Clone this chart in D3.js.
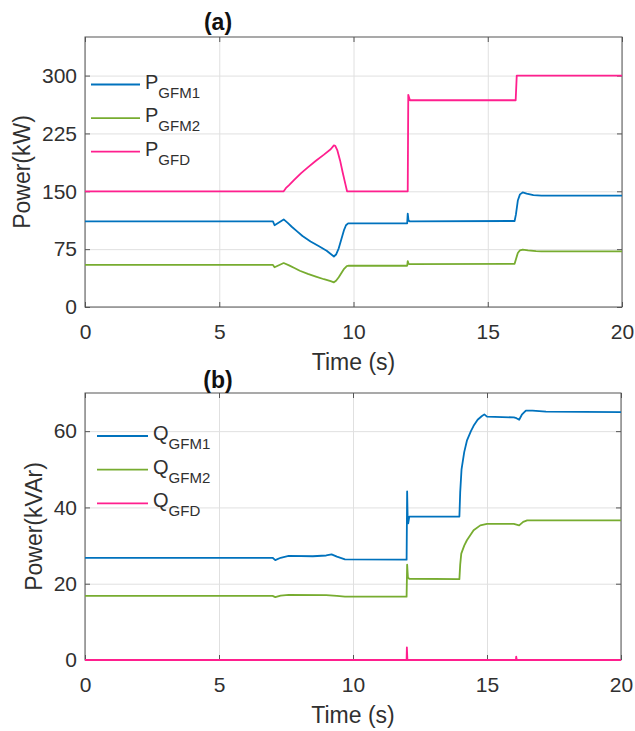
<!DOCTYPE html>
<html>
<head>
<meta charset="utf-8">
<script src="https://cdn.jsdelivr.net/npm/d3@7"></script>
<style>
  body { margin: 0; background: #fff; }
  svg { display: block; font-family: "Liberation Sans", Arial, Helvetica, sans-serif; }
</style>
</head>
<body>
<svg id="chart" width="635" height="731"></svg>
<script>
// Axis ticks
const timeTicks = [0, 5, 10, 15, 20];
const pTicks = [0, 75, 150, 225, 300];
const qTicks = [0, 20, 40, 60];

// Active power traces: [time (s), kW]
const pGFM1 = [[0,111],[7.0,111],[7.06,106],[7.4,113.5],[7.55,109],[7.7,104],[7.9,98],[8.1,92],[8.4,85],[8.7,79],[9.0,73],[9.2,67.5],[9.27,65.5],[9.35,68],[9.45,76],[9.55,88],[9.65,100],[9.72,106],[9.8,108.5],[12.0,108.5],[12.02,121],[12.05,112],[12.1,111],[16.0,111.5],[16.05,120],[16.12,138],[16.2,146],[16.3,148.5],[16.45,147],[16.7,145],[17.0,144.5],[20,144.5]];
const pGFM2 = [[0,54.5],[7.0,54.5],[7.06,51.5],[7.4,57],[7.6,54],[7.8,50.5],[8.0,47],[8.3,43],[8.6,39.5],[8.9,36],[9.15,33.5],[9.27,32],[9.35,34],[9.45,38.5],[9.55,44],[9.65,49.5],[9.75,53],[9.82,53.5],[12.0,53.5],[12.02,59.5],[12.05,56],[12.1,55.5],[16.0,56],[16.05,62],[16.12,70],[16.2,73.5],[16.3,74.5],[16.5,73.5],[16.8,72.5],[17.0,72],[20,72]];
const pGFD = [[0,150],[7.4,150],[7.48,154],[7.6,158],[7.8,165],[8.05,173.5],[8.3,181],[8.6,189.5],[8.9,197.5],[9.15,204.5],[9.27,209.5],[9.32,209],[9.4,203],[9.5,190],[9.6,174],[9.7,159],[9.76,150],[12.0,150],[12.02,150],[12.04,275],[12.1,268],[16.0,268],[16.04,268],[16.08,300],[20,300]];

// Reactive power traces: [time (s), kVAr]
const qGFM1 = [[0,26.8],[7.0,26.8],[7.1,26.2],[7.3,26.8],[7.6,27.3],[8.5,27.2],[9.0,27.4],[9.2,27.7],[9.4,27.1],[9.7,26.4],[12.0,26.3],[12.02,44.2],[12.04,37],[12.06,35.8],[12.1,37.6],[12.3,37.6],[13.97,37.6],[14.0,44],[14.05,50],[14.15,54.5],[14.25,57.5],[14.4,60],[14.5,61.4],[14.65,63],[14.8,63.9],[14.9,64.4],[15.0,63.8],[16.0,63.6],[16.1,63.4],[16.2,63],[16.3,64.3],[16.45,65.4],[16.7,65.4],[17.2,65.1],[20,65]];
const qGFM2 = [[0,16.8],[7.0,16.8],[7.1,16.5],[7.3,16.9],[7.6,17.1],[9.0,17.0],[9.4,16.8],[9.7,16.6],[12.0,16.6],[12.02,25],[12.05,21.6],[12.1,21.3],[13.97,21.2],[14.0,25],[14.04,27.9],[14.15,30],[14.25,31.4],[14.5,34],[14.75,35.3],[15.0,35.7],[16.0,35.7],[16.2,35.3],[16.35,36.2],[16.5,36.6],[20,36.6]];
const qGFD = [[0,0],[12.0,0],[12.01,3.3],[12.03,0],[16.08,0],[16.09,0.9],[16.11,0],[20,0]];

const seriesColors = ["#0072BD", "#77AC30", "#FF1F8E"];

const panels = [
  {
    title: "(a)", ylabel: "Power(kW)", yDomain: [0, 350], yTicks: pTicks,
    box: { left: 85, right: 622, top: 37, bottom: 307 },
    titleY: 30, ylabelX: 22,
    legend: { x0: 91, x1: 140, y0: 84.5, dy: 33.6, letter: "P" },
    series: [
      { data: pGFM1, sub: "GFM1" },
      { data: pGFM2, sub: "GFM2" },
      { data: pGFD,  sub: "GFD" }
    ]
  },
  {
    title: "(b)", ylabel: "Power(kVAr)", yDomain: [0, 70], yTicks: qTicks,
    box: { left: 85, right: 621, top: 393, bottom: 660 },
    titleY: 388, ylabelX: 34,
    legend: { x0: 97, x1: 148, y0: 436, dy: 33.7, letter: "Q" },
    series: [
      { data: qGFM1, sub: "GFM1" },
      { data: qGFM2, sub: "GFM2" },
      { data: qGFD,  sub: "GFD" }
    ]
  }
];

const svg = d3.select("#chart");
const textColor = "#303030";
const axisColor = "#555";
const gridColor = "#e0e0e0";

panels.forEach(p => {
  const b = p.box;
  const w = b.right - b.left, h = b.bottom - b.top;
  const x = d3.scaleLinear().domain([0, 20]).range([0, w]);
  const y = d3.scaleLinear().domain(p.yDomain).range([h, 0]);

  const g = svg.append("g").attr("transform", `translate(${b.left},${b.top})`);

  // grid
  g.append("g").attr("transform", `translate(0,${h})`)
    .call(d3.axisBottom(x).tickValues(timeTicks).tickSize(-h).tickFormat(""))
    .call(s => s.select(".domain").remove())
    .call(s => s.selectAll("line").attr("stroke", gridColor).attr("stroke-width", 1));
  g.append("g")
    .call(d3.axisLeft(y).tickValues(p.yTicks).tickSize(-w).tickFormat(""))
    .call(s => s.select(".domain").remove())
    .call(s => s.selectAll("line").attr("stroke", gridColor).attr("stroke-width", 1));

  // axes with inward ticks
  const styleAxis = s => {
    s.select(".domain").remove();
    s.selectAll(".tick line").attr("stroke", axisColor);
    s.selectAll(".tick text").attr("fill", textColor).style("font-size", "21px")
      .style("font-family", '"Liberation Sans", Arial, sans-serif');
  };
  g.append("g").attr("transform", `translate(0,${h})`)
    .call(d3.axisBottom(x).tickValues(timeTicks).tickSize(-5).tickPadding(17).tickFormat(d3.format("d")))
    .call(styleAxis);
  g.append("g")
    .call(d3.axisLeft(y).tickValues(p.yTicks).tickSize(-5).tickPadding(8).tickFormat(d3.format("d")))
    .call(styleAxis);
  g.append("g")
    .call(d3.axisTop(x).tickValues(timeTicks).tickSize(-5).tickFormat(""))
    .call(styleAxis);
  g.append("g").attr("transform", `translate(${w},0)`)
    .call(d3.axisRight(y).tickValues(p.yTicks).tickSize(-5).tickFormat(""))
    .call(styleAxis);

  // box
  g.append("rect").attr("width", w).attr("height", h)
    .attr("fill", "none").attr("stroke", axisColor).attr("stroke-width", 1);

  // traces (drawn over the box so a zero-valued trace stays visible)
  const line = d3.line().x(d => x(d[0])).y(d => y(d[1]));
  const clipId = "clip" + p.title.replace(/\W/g, "");
  g.append("clipPath").attr("id", clipId)
    .append("rect").attr("x", 0).attr("y", -2).attr("width", w).attr("height", h + 4);
  g.append("g").attr("clip-path", `url(#${clipId})`)
    .selectAll("path").data(p.series).join("path")
    .attr("d", s => line(s.data))
    .attr("fill", "none")
    .attr("stroke", (s, i) => seriesColors[i])
    .attr("stroke-width", 1.8)
    .attr("stroke-linejoin", "round");

  // axis labels
  svg.append("text")
    .attr("x", b.left + w / 2).attr("y", b.bottom + 55).attr("dy", "0.35em")
    .attr("text-anchor", "middle").attr("fill", textColor)
    .style("font-size", "23px").text("Time (s)");
  svg.append("text")
    .attr("transform", `translate(${p.ylabelX},${b.top + h / 2}) rotate(-90)`)
    .attr("dy", "0.35em").attr("text-anchor", "middle").attr("fill", textColor)
    .style("font-size", "23px").text(p.ylabel);

  // title
  svg.append("text")
    .attr("x", 218).attr("y", p.titleY)
    .attr("text-anchor", "middle").attr("fill", "#111")
    .style("font-size", "23px").style("font-weight", "bold").text(p.title);

  // legend
  const L = p.legend;
  const lg = svg.append("g");
  p.series.forEach((s, i) => {
    const yy = L.y0 + i * L.dy;
    lg.append("line").attr("x1", L.x0).attr("x2", L.x1).attr("y1", yy).attr("y2", yy)
      .attr("stroke", seriesColors[i]).attr("stroke-width", 1.8);
    const t = lg.append("text").attr("x", L.x1 + 5).attr("y", yy + 4).attr("fill", textColor)
      .style("font-size", "20px");
    t.append("tspan").text(L.letter);
    t.append("tspan").attr("dy", 9).style("font-size", "15px").text(s.sub);
  });
});
</script>
</body>
</html>
